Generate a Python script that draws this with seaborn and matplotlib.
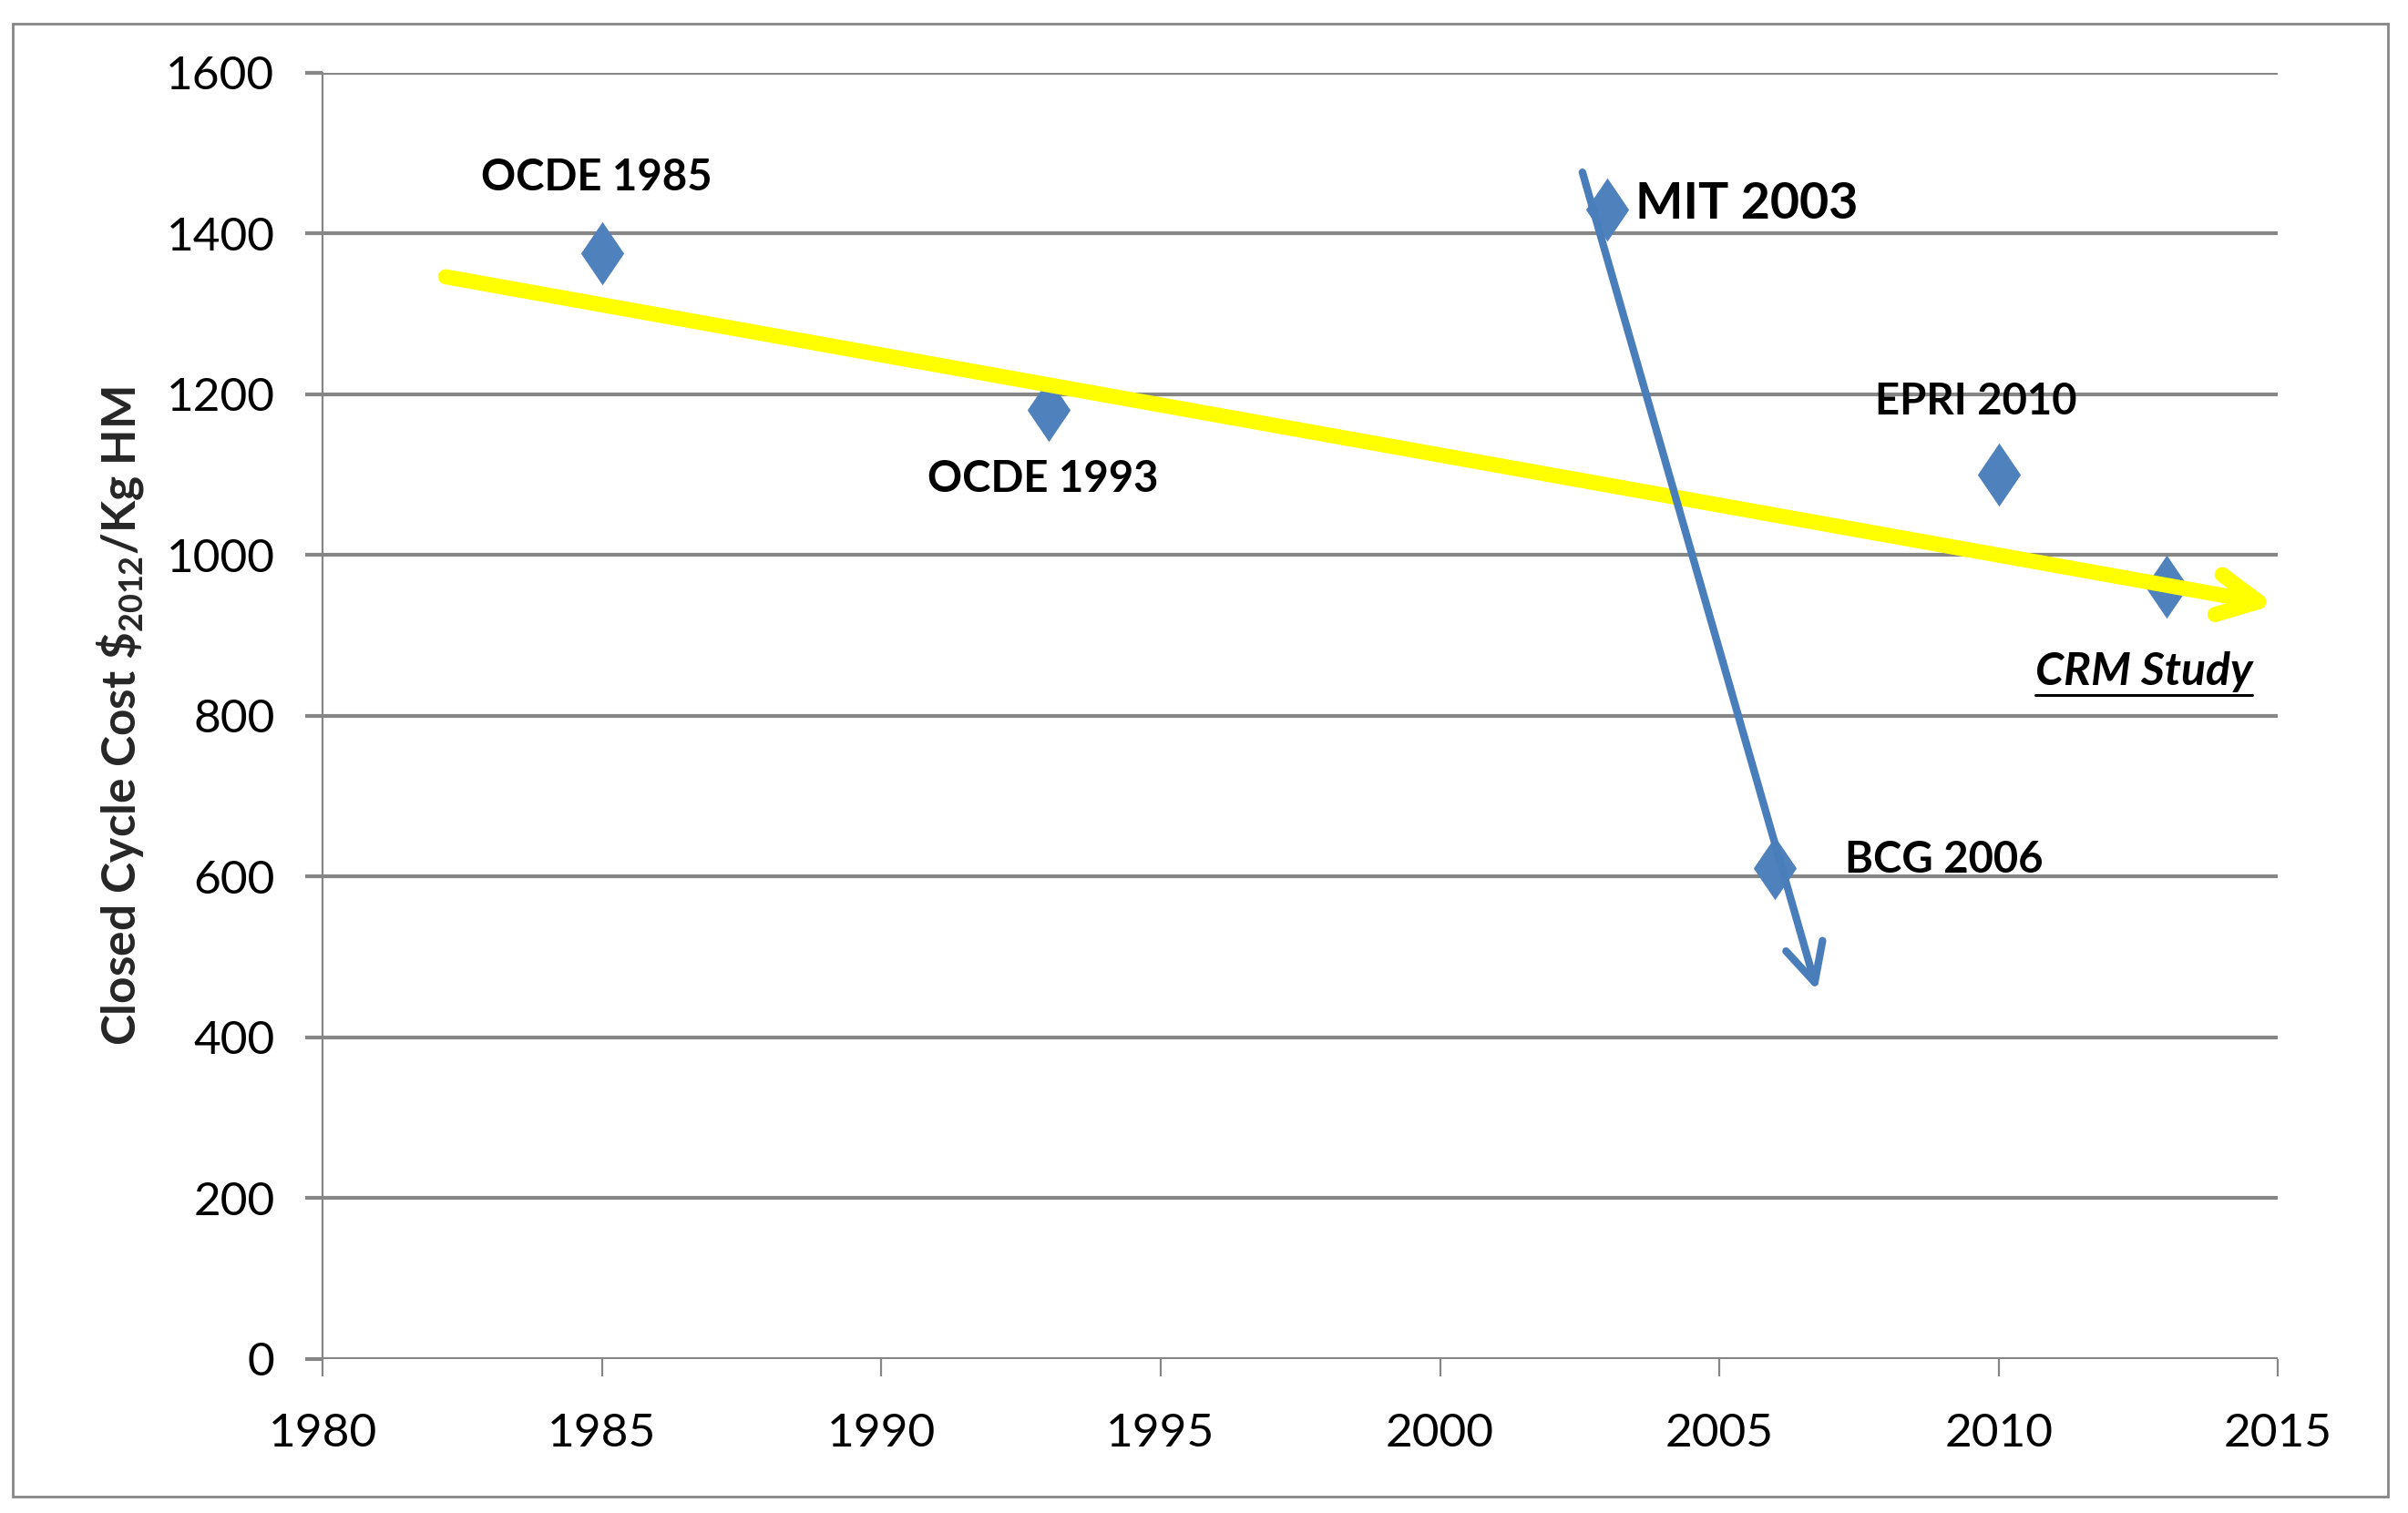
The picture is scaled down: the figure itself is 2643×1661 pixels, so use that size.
import matplotlib
matplotlib.use('Agg')
import matplotlib.pyplot as plt
import seaborn as sns
import pandas as pd
from matplotlib.patches import Rectangle
from matplotlib.lines import Line2D

# study estimates (year, closed cycle cost $2012 / kg HM)
years = [1985, 1993, 2003, 2006, 2010, 2013]
costs = [1375, 1180, 1430, 610, 1100, 960]

# annotation texts and where they sit
labels = ['OCDE 1985', 'OCDE 1993', 'MIT 2003', 'BCG 2006', 'EPRI 2010', 'CRM Study']
label_x = [1984.9, 1992.9, 2003.5, 2007.25, 2009.6, 2012.6]
label_y = [1469, 1094, 1436, 620, 1191, 855]

# trend arrows (start, end)
trend_x = [1982.2, 2014.95]
trend_y = [1346, 938]
drop_x = [2002.55, 2006.75]
drop_y = [1476, 458]

x_ticks = [1980, 1985, 1990, 1995, 2000, 2005, 2010, 2015]
y_ticks = [0, 200, 400, 600, 800, 1000, 1200, 1400, 1600]

sns.set_theme(style='white')
plt.rcParams['font.family'] = ['Lato', 'DejaVu Sans']
plt.rcParams['mathtext.default'] = 'regular'

grid_col = '#868686'
blue = '#4F81BD'

fig = plt.figure(figsize=(26.43, 16.61), dpi=100)
ax = fig.add_axes([0.134, 0.102, 0.812, 0.850])

df = pd.DataFrame({'year': years, 'cost': costs})
diamond = [(0, 0.5), (0.34, 0), (0, -0.5), (-0.34, 0)]
sns.scatterplot(data=df, x='year', y='cost', marker=diamond, s=2500,
                color=blue, linewidth=0, ax=ax, zorder=3)

ax.set_xlim(1980, 2015)
ax.set_ylim(0, 1600)
ax.set_xticks(x_ticks)
ax.set_yticks(y_ticks)
ax.tick_params(axis='both', labelsize=37, colors='black')
ax.tick_params(axis='x', length=14, width=1.6, color=grid_col, pad=29, direction='out', bottom=True)
ax.tick_params(axis='y', length=14, width=3, color=grid_col, pad=24, direction='out', left=True)

ax.yaxis.grid(True, color=grid_col, lw=3)
ax.xaxis.grid(False)
ax.set_axisbelow(True)
for side in ['top', 'right', 'bottom']:
    ax.spines[side].set_visible(False)
ax.spines['left'].set_color(grid_col)
ax.spines['left'].set_linewidth(1.6)

ax.set_xlabel('')
ax.set_ylabel('Closed Cycle Cost $\\$_{2012}$/Kg HM', fontsize=37, fontweight='bold', labelpad=16)

# trend arrows
ax.annotate('', xy=(trend_x[1], trend_y[1]), xytext=(trend_x[0], trend_y[0]),
            arrowprops=dict(arrowstyle='->,head_length=0.64,head_width=0.32', color='#FFFF00',
                            lw=12, mutation_scale=50, shrinkA=0, shrinkB=0),
            annotation_clip=False, zorder=4)
ax.annotate('', xy=(drop_x[1], drop_y[1]), xytext=(drop_x[0], drop_y[0]),
            arrowprops=dict(arrowstyle='->,head_length=0.6,head_width=0.3', color='#4A7EBB',
                            lw=6, mutation_scale=50, shrinkA=0, shrinkB=0),
            annotation_clip=False, zorder=5)

aligns = ['center', 'center', 'left', 'left', 'center', 'center']
sizes = [34, 34, 40, 34, 34, 36]
styles = ['normal', 'normal', 'normal', 'normal', 'normal', 'italic']
texts = []
for txt, lx, ly, ha, fs, st in zip(labels, label_x, label_y, aligns, sizes, styles):
    t = ax.text(lx, ly, txt, ha=ha, va='center', fontsize=fs, fontweight='bold',
                fontstyle=st, color='black', zorder=6)
    texts.append(t)

# underline under "CRM Study"
fig.canvas.draw()
bb = texts[-1].get_window_extent().transformed(fig.transFigure.inverted())
uy = bb.y0 - 0.002
fig.lines.append(Line2D([bb.x0, bb.x1], [uy, uy], transform=fig.transFigure,
                        color='black', lw=2.2))

# outer chart border
fig.patches.append(Rectangle((14 / 2643, 1 - 1643 / 1661), 2607 / 2643, 1617 / 1661,
                             transform=fig.transFigure, fill=False, ec=grid_col, lw=2))

fig.savefig('out.png', dpi=100, facecolor='white')
